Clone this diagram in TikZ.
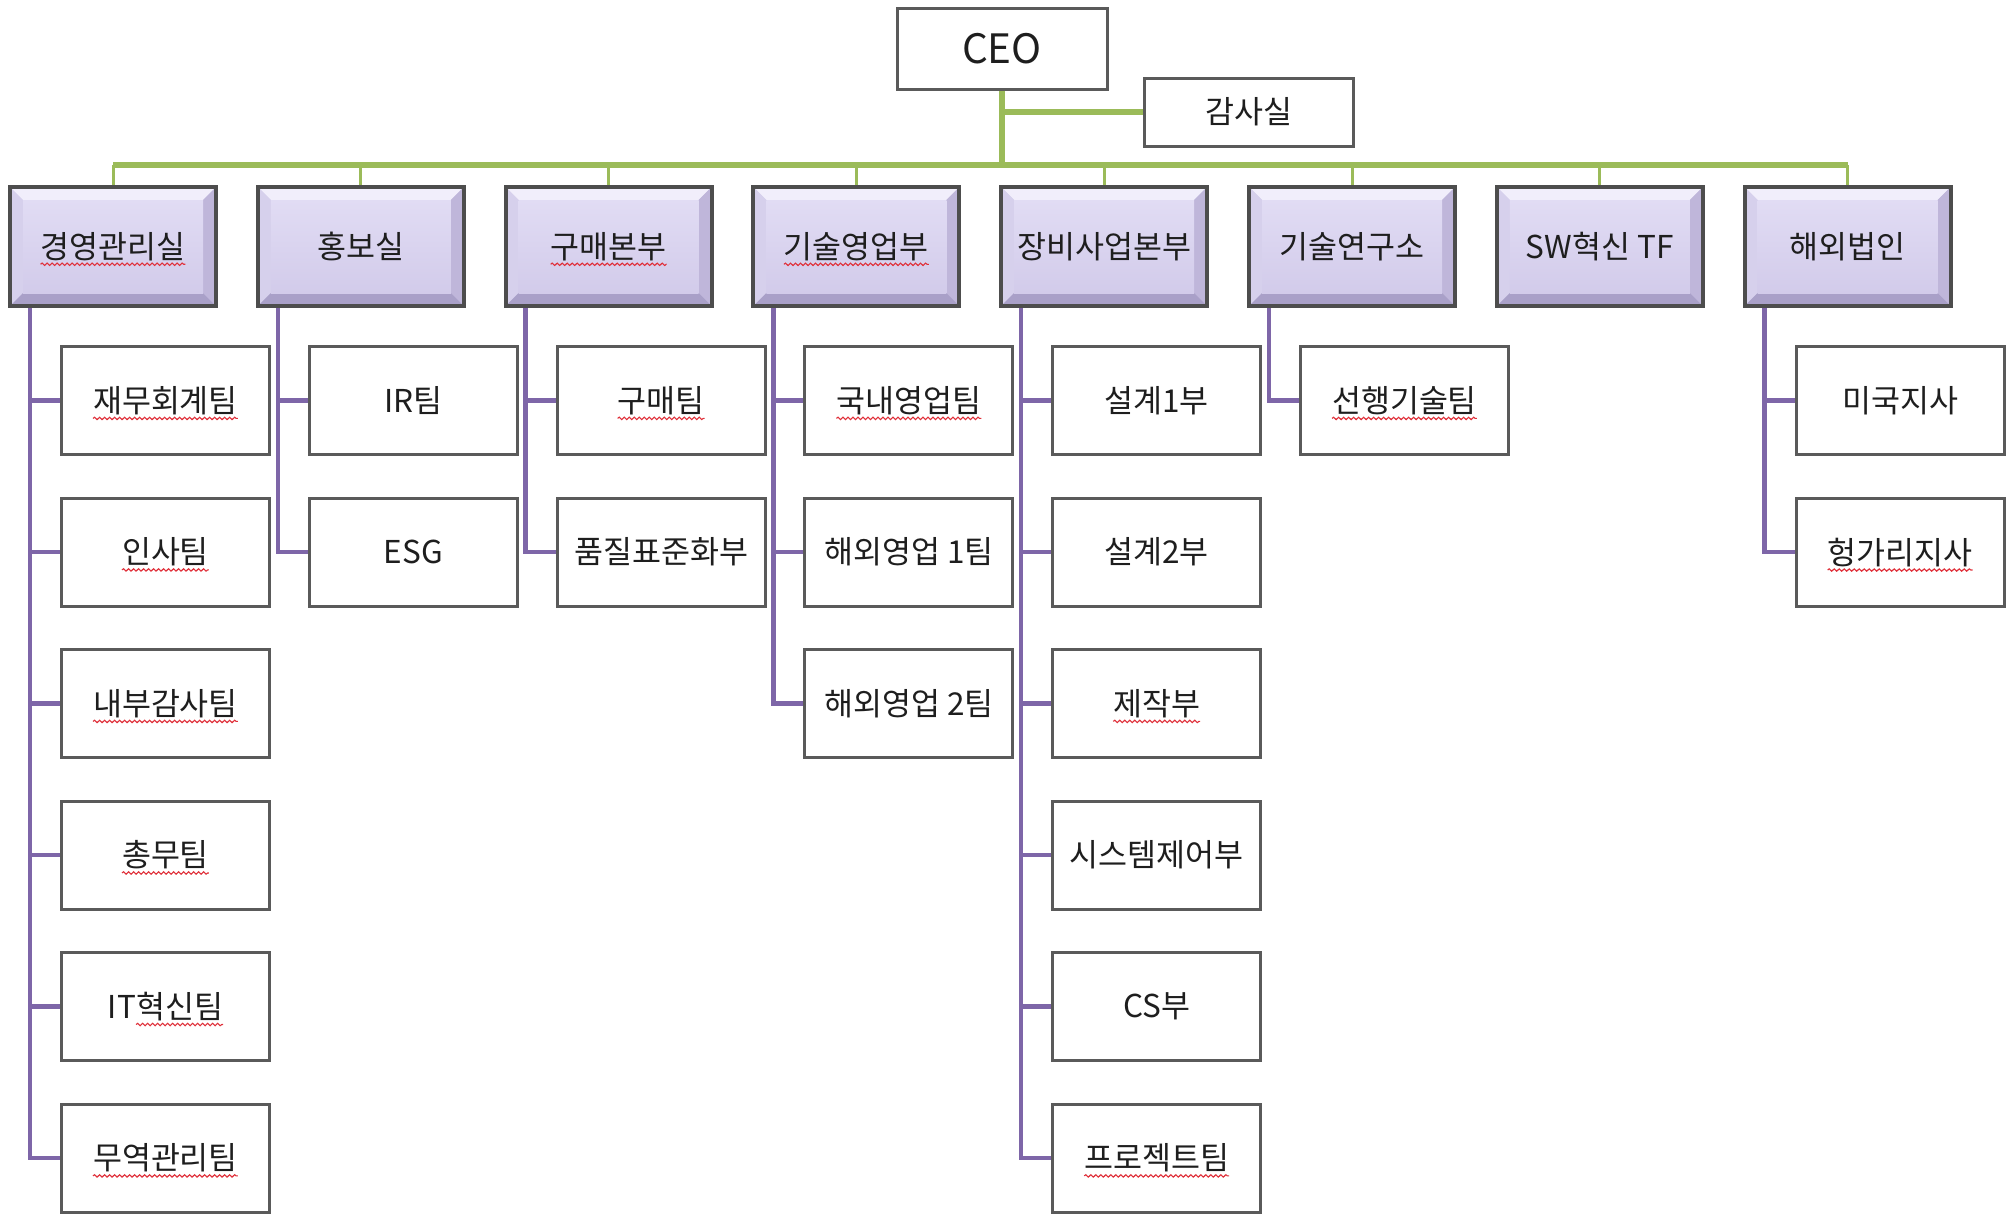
\documentclass[tikz,border=0pt]{standalone}
\usepackage{fontspec}
\usetikzlibrary{decorations.pathmorphing}
\newfontfamily\kr{Noto Sans CJK KR}
\definecolor{ogreen}{HTML}{9BBB59}
\definecolor{opurple}{HTML}{7E66A8}
\definecolor{bordA}{HTML}{4D4D4D}
\definecolor{bordB}{HTML}{5A5A5A}
\definecolor{txt}{HTML}{1E1E1E}
\definecolor{sqred}{HTML}{E0303A}
\definecolor{faceT}{HTML}{E1DCF4}
\definecolor{faceB}{HTML}{D2CBEA}
\definecolor{bevT}{HTML}{F1EEFB}
\definecolor{bevL}{HTML}{D6D0EC}
\definecolor{bevR}{HTML}{BFB6DA}
\definecolor{bevB}{HTML}{A9A0C8}
% \sq[prefix]{underlined}: records widths for the wavy spell-check line
\newcommand\sq[2][]{\setbox0=\hbox{#1}\setbox2=\hbox{#2}\xdef\sqo{\the\wd0}\xdef\sqw{\the\wd2}#1#2}
\tikzset{
  ktext/.style={font=\kr\fontsize{31.5}{34}\selectfont, text=txt},
  spell/.style={append after command={\pgfextra{%
      \expandafter\xdef\csname sqo@\tikzlastnode\endcsname{\sqo}%
      \expandafter\xdef\csname sqw@\tikzlastnode\endcsname{\sqw}}}},
  squig/.style={sqred, line width=1.1pt, decorate, decoration={snake, amplitude=1.2pt, segment length=5pt}},
  deptbox/.style={ktext, draw=bordA, line width=4pt, fill=faceB,
    minimum width=206pt, minimum height=119pt, inner sep=0pt,
    path picture={
      \coordinate (ppnw) at (path picture bounding box.north west);
      \coordinate (ppne) at (path picture bounding box.north east);
      \coordinate (ppsw) at (path picture bounding box.south west);
      \coordinate (ppse) at (path picture bounding box.south east);
      \fill[bevT] (ppnw) -- (ppne) -- ([shift={(-13pt,-13pt)}]ppne) -- ([shift={(13pt,-13pt)}]ppnw) -- cycle;
      \fill[bevL] (ppnw) -- ([shift={(13pt,-13pt)}]ppnw) -- ([shift={(13pt,13pt)}]ppsw) -- (ppsw) -- cycle;
      \fill[bevR] (ppne) -- (ppse) -- ([shift={(-13pt,13pt)}]ppse) -- ([shift={(-13pt,-13pt)}]ppne) -- cycle;
      \fill[bevB] (ppsw) -- ([shift={(13pt,13pt)}]ppsw) -- ([shift={(-13pt,13pt)}]ppse) -- (ppse) -- cycle;
      \shade[top color=faceT, bottom color=faceB] ([shift={(13pt,-13pt)}]ppnw) rectangle ([shift={(-13pt,13pt)}]ppse);
    }},
  unitbox/.style={ktext, draw=bordB, line width=3pt, fill=white,
    minimum width=208pt, minimum height=108pt, inner sep=0pt},
  gline/.style={draw=ogreen, line width=5.5pt},
  gdrop/.style={draw=ogreen, line width=3pt},
  pline/.style={draw=opurple, line width=4.5pt},
}
\begin{document}
\begin{tikzpicture}[x=1pt,y=-1pt]
\useasboundingbox[fill=white] (0,0) rectangle (2013,1216);

% top
\node[unitbox, minimum width=210pt, minimum height=81pt, font=\kr\fontsize{40.5}{44}\selectfont] (ceo) at (1002,48.5) {CEO};
\node[unitbox, minimum width=209pt, minimum height=68pt] (audit) at (1248.5,112) {감사실};

% departments
\node[deptbox, spell] (d1) at (113,246.5) {\sq{경영관리실}};
\node[deptbox] (d2) at (360.8,246.5) {홍보실};
\node[deptbox, spell] (d3) at (608.6,246.5) {\sq{구매본부}};
\node[deptbox, spell] (d4) at (856.4,246.5) {\sq{기술영업부}};
\node[deptbox] (d5) at (1104.2,246.5) {장비사업본부};
\node[deptbox] (d6) at (1352,246.5) {기술연구소};
\node[deptbox] (d7) at (1599.8,246.5) {SW혁신 TF};
\node[deptbox] (d8) at (1847.6,246.5) {해외법인};

% units
\node[unitbox, spell] (c11) at (165.5,400.6) {\sq{재무회계팀}};
\node[unitbox, spell] (c12) at (165.5,552.1) {\sq{인사팀}};
\node[unitbox, spell] (c13) at (165.5,703.6) {\sq{내부감사팀}};
\node[unitbox, spell] (c14) at (165.5,855.1) {\sq{총무팀}};
\node[unitbox, spell] (c15) at (165.5,1006.6) {\sq[IT]{혁신팀}};
\node[unitbox, spell] (c16) at (165.5,1158.1) {\sq{무역관리팀}};

\node[unitbox] (c21) at (413.3,400.6) {IR팀};
\node[unitbox] (c22) at (413.3,552.1) {ESG};

\node[unitbox, spell] (c31) at (661.1,400.6) {\sq{구매팀}};
\node[unitbox] (c32) at (661.1,552.1) {품질표준화부};

\node[unitbox, spell] (c41) at (908.9,400.6) {\sq{국내영업팀}};
\node[unitbox] (c42) at (908.9,552.1) {해외영업 1팀};
\node[unitbox] (c43) at (908.9,703.6) {해외영업 2팀};

\node[unitbox] (c51) at (1156.7,400.6) {설계1부};
\node[unitbox] (c52) at (1156.7,552.1) {설계2부};
\node[unitbox, spell] (c53) at (1156.7,703.6) {\sq{제작부}};
\node[unitbox] (c54) at (1156.7,855.1) {시스템제어부};
\node[unitbox] (c55) at (1156.7,1006.6) {CS부};
\node[unitbox, spell] (c56) at (1156.7,1158.1) {\sq{프로젝트팀}};

\node[unitbox, spell] (c61) at (1404.5,400.6) {\sq{선행기술팀}};

\node[unitbox] (c81) at (1900.1,400.6) {미국지사};
\node[unitbox, spell] (c82) at (1900.1,552.1) {\sq{헝가리지사}};

% spell-check squiggles
\foreach \n in {d1,d3,d4,c11,c12,c13,c14,c15,c16,c31,c41,c53,c56,c61,c82}{
  \edef\so{\csname sqo@\n\endcsname}\edef\sw{\csname sqw@\n\endcsname}
  \draw[squig] ([xshift={\so-(\so+\sw)/2}, yshift=-6pt]\n.base) -- ([xshift={(\so+\sw)/2}, yshift=-6pt]\n.base);
}

% green connectors
\coordinate (busy) at (0,165);
\draw[gline] (ceo.south) -- (ceo.south |- busy);
\draw[gline] (audit.west) -- (audit.west -| ceo.south);
\draw[gline] (d1.north |- busy) -- (d8.north |- busy);
\foreach \i in {1,...,8} \draw[gdrop] (d\i.north) -- (d\i.north |- busy);

% purple connectors
\foreach \d/\last/\list in {1/6/{1,2,3,4,5},2/2/{1},3/2/{1},4/3/{1,2},5/6/{1,2,3,4,5},6/1/{},8/2/{1}}{
  \coordinate (t\d) at ([xshift=22pt]d\d.south west);
  \draw[pline] (t\d) |- (c\d\last.west);
  \foreach \k in \list { \draw[pline] (c\d\k.west) -- (c\d\k.west -| t\d); }
}
\end{tikzpicture}
\end{document}
